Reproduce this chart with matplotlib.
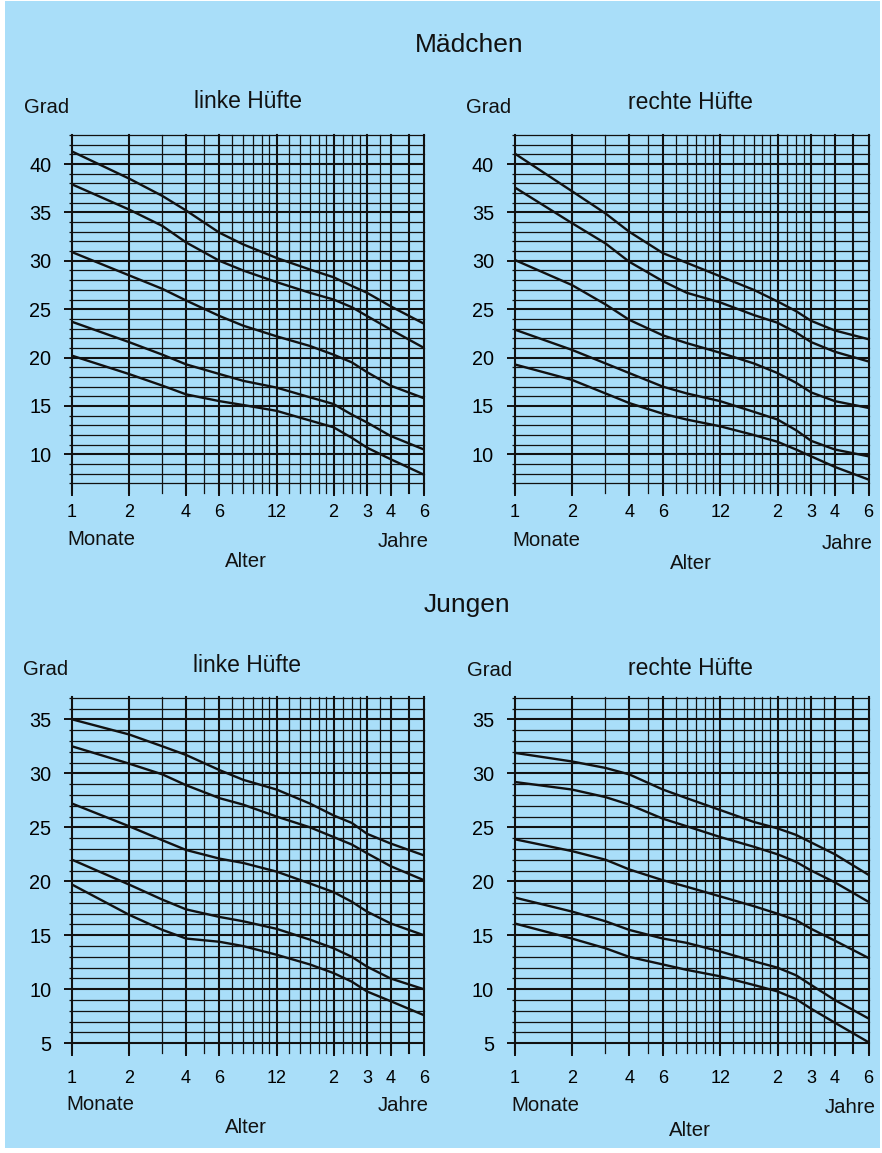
import matplotlib
matplotlib.use("Agg")
import matplotlib.pyplot as plt
from matplotlib.patches import Rectangle
from matplotlib.ticker import NullLocator

# ---------------- data ----------------
age_months = [1, 2, 3, 4, 6, 8, 12, 18, 24, 30, 36, 48, 72]

maedchen_links = [
    [41.3, 38.5, 36.7, 35.2, 32.9, 31.7, 30.3, 29.1, 28.3, 27.4, 26.7, 25.3, 23.5],
    [37.9, 35.3, 33.6, 31.9, 30.0, 29.0, 27.8, 26.7, 26.0, 25.2, 24.3, 22.9, 21.0],
    [30.9, 28.5, 27.1, 25.9, 24.3, 23.3, 22.2, 21.2, 20.3, 19.5, 18.5, 17.1, 15.8],
    [23.7, 21.6, 20.3, 19.3, 18.3, 17.6, 16.9, 15.9, 15.2, 14.1, 13.3, 11.9, 10.5],
    [20.2, 18.3, 17.1, 16.2, 15.5, 15.1, 14.5, 13.5, 12.8, 11.7, 10.7, 9.5, 7.9],
]
maedchen_rechts = [
    [41.1, 37.2, 34.9, 33.0, 30.8, 29.8, 28.4, 27.0, 25.8, 24.8, 23.8, 22.8, 21.9],
    [37.6, 33.9, 31.8, 29.9, 27.9, 26.7, 25.7, 24.4, 23.6, 22.6, 21.6, 20.6, 19.6],
    [30.1, 27.5, 25.5, 23.9, 22.3, 21.5, 20.5, 19.4, 18.4, 17.4, 16.4, 15.5, 14.8],
    [22.9, 20.8, 19.4, 18.4, 17.0, 16.3, 15.5, 14.4, 13.6, 12.5, 11.4, 10.5, 9.8],
    [19.3, 17.7, 16.3, 15.3, 14.2, 13.6, 12.9, 12.0, 11.3, 10.5, 9.8, 8.7, 7.4],
]
jungen_links = [
    [35.0, 33.6, 32.5, 31.7, 30.3, 29.4, 28.5, 27.2, 26.1, 25.4, 24.4, 23.5, 22.4],
    [32.5, 30.9, 29.9, 28.9, 27.7, 27.1, 26.0, 25.0, 24.1, 23.4, 22.6, 21.4, 20.1],
    [27.2, 25.1, 23.8, 22.9, 22.1, 21.7, 20.9, 19.8, 19.0, 18.1, 17.2, 16.1, 15.0],
    [22.0, 19.7, 18.3, 17.4, 16.7, 16.3, 15.6, 14.6, 13.8, 13.0, 12.1, 11.0, 10.0],
    [19.7, 16.9, 15.5, 14.7, 14.4, 14.0, 13.2, 12.3, 11.5, 10.7, 9.8, 8.9, 7.6],
]
jungen_rechts = [
    [31.9, 31.1, 30.5, 29.9, 28.5, 27.7, 26.6, 25.5, 24.9, 24.3, 23.6, 22.5, 20.6],
    [29.2, 28.5, 27.8, 27.1, 25.8, 25.1, 24.1, 23.2, 22.5, 21.8, 21.0, 19.9, 18.1],
    [23.9, 22.8, 22.0, 21.1, 20.1, 19.5, 18.6, 17.7, 17.0, 16.4, 15.6, 14.5, 12.9],
    [18.5, 17.2, 16.3, 15.5, 14.7, 14.3, 13.5, 12.6, 12.0, 11.3, 10.4, 9.0, 7.3],
    [16.1, 14.7, 13.8, 13.0, 12.3, 11.8, 11.2, 10.4, 9.8, 9.1, 8.2, 6.9, 5.1],
]

x_tick_positions = [1, 2, 4, 6, 12, 24, 36, 48, 72]
x_tick_labels = ["1", "2", "4", "6", "12", "2", "3", "4", "6"]
x_grid_months = [1, 2, 3, 4, 5, 6, 7, 8, 9, 10, 11, 12,
                 14, 16, 18, 20, 22, 24, 27, 30, 33, 36, 42, 48, 60, 72]
x_thick_months = [1, 2, 4, 6, 12, 24, 36, 48, 60, 72]

group_titles = ["Mädchen", "Jungen"]
panel_titles = ["linke Hüfte", "rechte Hüfte"]

# ---------------- figure ----------------
W, H = 882, 1153
plt.rcParams["font.family"] = ["Liberation Sans", "DejaVu Sans"]
fig = plt.figure(figsize=(W / 100, H / 100), dpi=100, facecolor="white")
BG = "#a9def9"
fig.patches.append(Rectangle((5 / W, 5 / H), (W - 7) / W, (H - 6) / H,
                             transform=fig.transFigure, facecolor=BG,
                             edgecolor="none", zorder=-10))
INK = "#111111"


def fx(px):
    return px / W


def fy(py):
    return 1 - py / H


def make_panel(rect_px, curves, ylim, ymajor, yrange, xpad):
    x0, y0, x1, y1 = rect_px
    ax = fig.add_axes([fx(x0), fy(y1), fx(x1 - x0), (y1 - y0) / H])
    ax.set_facecolor("none")
    ax.set_xscale("log")
    ax.set_xlim(1, 72)
    ax.set_ylim(*ylim)
    for s in ax.spines.values():
        s.set_visible(False)
    # vertical grid
    for m in x_grid_months:
        lw = 1.5 if m in x_thick_months else 0.9
        ax.axvline(m, color=INK, lw=lw, zorder=1, clip_on=False)
    # horizontal grid
    for d in yrange:
        lw = 1.5 if d % 5 == 0 else 0.9
        ax.axhline(d, color=INK, lw=lw, zorder=1, clip_on=False)
    # curves
    for c in curves:
        ax.plot(age_months, c, color=INK, lw=1.7, zorder=3,
                solid_joinstyle="round", solid_capstyle="butt")
    ax.set_yticks(ymajor)
    ax.set_yticks(list(yrange), minor=True)
    ax.tick_params(axis="y", which="major", length=5.8, width=1.4,
                   direction="out", pad=9, labelsize=14.3, color=INK)
    ax.tick_params(axis="y", which="minor", length=2.3, width=0.9,
                   direction="out", color=INK)
    ax.set_xticks(x_tick_positions)
    ax.set_xticklabels(x_tick_labels)
    ax.xaxis.set_minor_locator(NullLocator())
    ax.tick_params(axis="x", which="major", length=2.5, width=1.4,
                   direction="out", pad=xpad, labelsize=13, color=INK)
    return ax


top_y = (135, 492.7)
bot_y = (697.3, 1053)
left_x = (72, 424)
right_x = (514.5, 868.5)

make_panel((left_x[0], top_y[0], left_x[1], top_y[1]), maedchen_links,
           (6.04, 43), list(range(10, 41, 5)), range(7, 44), 5.5)
make_panel((right_x[0], top_y[0], right_x[1], top_y[1]), maedchen_rechts,
           (6.04, 43), list(range(10, 41, 5)), range(7, 44), 5.5)
make_panel((left_x[0], bot_y[0], left_x[1], bot_y[1]), jungen_links,
           (4.1, 37.04), list(range(5, 36, 5)), range(5, 38), 9.5)
make_panel((right_x[0], bot_y[0], right_x[1], bot_y[1]), jungen_rechts,
           (4.1, 37.04), list(range(5, 36, 5)), range(5, 38), 9.5)


def ftext(px, py, s, size, ha="center", va="baseline"):
    fig.text(fx(px), fy(py), s, fontsize=size, ha=ha, va=va, color=INK)


# group titles
ftext(469, 52, group_titles[0], 19)
ftext(467, 612, group_titles[1], 19)

# panel titles
ftext(248, 108, panel_titles[0], 16.5)
ftext(690, 109, panel_titles[1], 16.5)
ftext(247, 672, panel_titles[0], 16.5)
ftext(690, 675, panel_titles[1], 16.5)

# y-axis unit
ftext(47, 113, "Grad", 14.6)
ftext(489, 113, "Grad", 14.6)
ftext(46, 675, "Grad", 14.6)
ftext(490, 676, "Grad", 14.6)

# x-axis unit labels
ftext(67, 545, "Monate", 14.7, ha="left")
ftext(512, 546, "Monate", 14.7, ha="left")
ftext(66, 1110, "Monate", 14.7, ha="left")
ftext(511, 1111, "Monate", 14.7, ha="left")

ftext(429, 547, "Jahre", 14.7, ha="right")
ftext(873, 549, "Jahre", 14.7, ha="right")
ftext(429, 1111, "Jahre", 14.7, ha="right")
ftext(876, 1113, "Jahre", 14.7, ha="right")

ftext(246, 567, "Alter", 14.7)
ftext(691, 569, "Alter", 14.7)
ftext(246, 1133, "Alter", 14.7)
ftext(690, 1136, "Alter", 14.7)

fig.savefig("out.png", dpi=100, facecolor=fig.get_facecolor())
